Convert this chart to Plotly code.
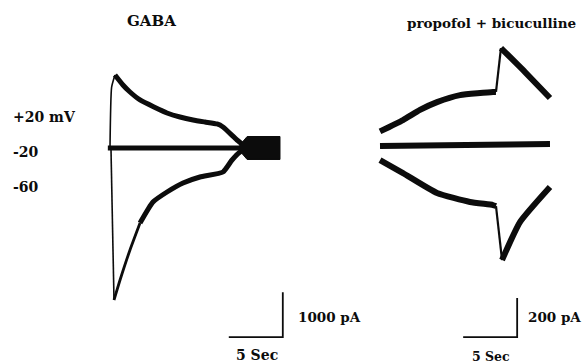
import plotly.graph_objects as go

# ---------------- data ----------------
# GABA panel: time (s) and current (pA)
gaba_p20_t = [0.0, 0.15, 0.46, 1.20, 1.85, 2.78, 4.07, 5.28, 6.48, 7.69, 8.80, 9.91, 10.46, 11.76, 12.69]
gaba_p20_i = [0, 1350, 1620, 1399, 1243, 1066, 910, 777, 688, 622, 577, 533, 466, 178, 0]

gaba_m20_t = [-0.2, 3.0, 6.0, 9.0, 12.7]
gaba_m20_i = [0, 0, 0, 0, 0]

gaba_m60_t = [0.09, 0.37, 0.93, 1.85, 2.78, 3.98, 5.28, 6.76, 8.33, 10.46, 11.30, 12.04, 12.69]
gaba_m60_i = [0, -3374, -2930, -2264, -1665, -1199, -977, -777, -644, -533, -266, -89, 0]

# noisy tail where the three GABA traces converge (envelope)
gaba_tail_t = [12.0, 12.7, 15.74]
gaba_tail_hi = [60, 255, 255]
gaba_tail_lo = [-60, -255, -255]

# propofol + bicuculline panel
prop_p20_t = [0.0, 2.13, 3.70, 5.28, 7.41, 10.46, 10.74, 11.2, 13.43, 15.74]
prop_p20_i = [70, 128, 180, 220, 256, 272, 272, 497, 374, 241]

prop_m20_t = [0.0, 4.0, 8.0, 12.0, 15.74]
prop_m20_i = [-5, -2, 0, 3, 5]

prop_m60_t = [0.0, 2.13, 5.28, 8.33, 10.46, 10.74, 11.30, 12.96, 15.74]
prop_m60_i = [-77, -144, -246, -292, -308, -313, -590, -395, -215]

titles = ["GABA", "propofol + bicuculline"]
voltage_labels = ["+20 mV", "-20", "-60"]
scale_labels = ["1000 pA", "200 pA"]
time_label = "5 Sec"
scale_pa = [1000, 200]
scale_s = 5

# ---------------- layout geometry ----------------
W, H = 588, 363
px_per_s = 10.8
# left panel: t=0 at pixel x 110, I=0 at pixel y 148, 22.2 pA per pixel
L_x0, L_y0, L_pa = 110, 148, 22.2
# right panel: t=0 at pixel x 380, I=0 at pixel y 145, 5.128 pA per pixel
R_x0, R_y0, R_pa = 380, 145, 5.128
split = 294

INK = "#0c0c0c"
FONT = "DejaVu Serif"

fig = go.Figure()


def seg(t, i, width, xa, ya, smooth=True):
    line = dict(color=INK, width=width)
    if smooth and len(t) > 2:
        line.update(shape="spline", smoothing=0.5)
    fig.add_trace(go.Scatter(x=t, y=i, mode="lines", xaxis=xa, yaxis=ya, line=line,
                             hoverinfo="skip", showlegend=False))


# GABA traces
seg(gaba_m20_t, gaba_m20_i, 5, "x", "y")
seg(gaba_p20_t[:3], gaba_p20_i[:3], 1.6, "x", "y")
seg(gaba_p20_t[2:], gaba_p20_i[2:], 5, "x", "y")
seg(gaba_m60_t[:2], gaba_m60_i[:2], 1.6, "x", "y")
seg(gaba_m60_t[1:5], gaba_m60_i[1:5], 2.8, "x", "y")
seg(gaba_m60_t[4:], gaba_m60_i[4:], 5, "x", "y")
# noisy tail band
fig.add_trace(go.Scatter(x=gaba_tail_t + gaba_tail_t[::-1], y=gaba_tail_hi + gaba_tail_lo[::-1],
                         mode="lines", fill="toself", fillcolor=INK, xaxis="x", yaxis="y",
                         line=dict(color=INK, width=1), hoverinfo="skip", showlegend=False))

# propofol + bicuculline traces
seg(prop_m20_t, prop_m20_i, 6, "x2", "y2")
seg(prop_p20_t[:7], prop_p20_i[:7], 6, "x2", "y2")
seg(prop_p20_t[6:8], prop_p20_i[6:8], 2.2, "x2", "y2", smooth=False)
seg(prop_p20_t[7:], prop_p20_i[7:], 6, "x2", "y2")
seg(prop_m60_t[:6], prop_m60_i[:6], 6, "x2", "y2")
seg(prop_m60_t[5:7], prop_m60_i[5:7], 2.2, "x2", "y2", smooth=False)
seg(prop_m60_t[6:], prop_m60_i[6:], 6, "x2", "y2")

# scale bars (drawn in data units)
L_bar_t, L_bar_i = 11.0, -4200
R_bar_t, R_bar_i = 7.7, -985
for (bt, bi, pa, xa, ya) in [(L_bar_t, L_bar_i, scale_pa[0], "x", "y"),
                              (R_bar_t, R_bar_i, scale_pa[1], "x2", "y2")]:
    fig.add_trace(go.Scatter(x=[bt, bt + scale_s, bt + scale_s], y=[bi, bi, bi + pa],
                             mode="lines", xaxis=xa, yaxis=ya,
                             line=dict(color=INK, width=1.8), hoverinfo="skip", showlegend=False))

fig.update_layout(
    width=W, height=H, margin=dict(l=0, r=0, t=0, b=0),
    paper_bgcolor="white", plot_bgcolor="white",
    xaxis=dict(domain=[0, split / W], range=[-L_x0 / px_per_s, (split - L_x0) / px_per_s],
               visible=False, fixedrange=True),
    yaxis=dict(domain=[0, 1], range=[-(H - L_y0) * L_pa, L_y0 * L_pa], visible=False, fixedrange=True),
    xaxis2=dict(domain=[split / W, 1], range=[(split - R_x0) / px_per_s, (W - R_x0) / px_per_s],
                visible=False, fixedrange=True),
    yaxis2=dict(domain=[0, 1], range=[-(H - R_y0) * R_pa, R_y0 * R_pa], anchor="x2",
                visible=False, fixedrange=True),
)


def label(text, px, py, size, anchor="left"):
    fig.add_annotation(text="<b>%s</b>" % text, x=px / W, y=1 - py / H, xref="paper", yref="paper",
                       xanchor=anchor, yanchor="middle", showarrow=False,
                       font=dict(family=FONT, size=size, color=INK))


label(titles[0], 151, 21, 15, "center")
label(titles[1], 491, 23, 13.5, "center")
label(voltage_labels[0], 11, 117, 14)
label(voltage_labels[1], 11, 152, 14)
label(voltage_labels[2], 11, 187, 14)
label(scale_labels[0], 296, 317, 13.5)
label(scale_labels[1], 526, 317, 13.5)
label(time_label, 257, 355, 14, "center")
label(time_label, 491, 356, 12.5, "center")

fig.write_html("out.html")
